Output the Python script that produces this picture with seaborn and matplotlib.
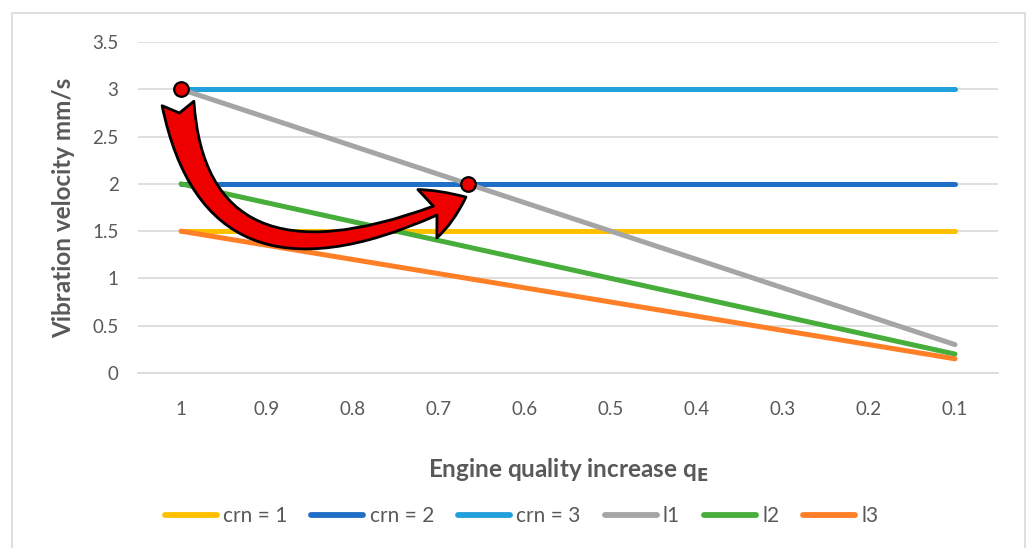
import numpy as np
import pandas as pd
import matplotlib
matplotlib.use("Agg")
import matplotlib.pyplot as plt
import seaborn as sns
from matplotlib.patches import FancyArrowPatch, Rectangle

# ---- data ----
categories = ["1", "0.9", "0.8", "0.7", "0.6", "0.5", "0.4", "0.3", "0.2", "0.1"]
crn1 = [1.5, 1.5, 1.5, 1.5, 1.5, 1.5, 1.5, 1.5, 1.5, 1.5]
crn2 = [2, 2, 2, 2, 2, 2, 2, 2, 2, 2]
crn3 = [3, 3, 3, 3, 3, 3, 3, 3, 3, 3]
l1 = [3, 2.7, 2.4, 2.1, 1.8, 1.5, 1.2, 0.9, 0.6, 0.3]
l2 = [2, 1.8, 1.6, 1.4, 1.2, 1.0, 0.8, 0.6, 0.4, 0.2]
l3 = [1.5, 1.35, 1.2, 1.05, 0.9, 0.75, 0.6, 0.45, 0.3, 0.15]
series_names = ["crn = 1", "crn = 2", "crn = 3", "l1", "l2", "l3"]
series_values = [crn1, crn2, crn3, l1, l2, l3]
colors = ["#FFC000", "#1F6FC6", "#22A0DB", "#A5A5A5", "#47AD3B", "#FF7F27"]
yticks = [0, 0.5, 1, 1.5, 2, 2.5, 3, 3.5]

rows = []
for name, vals in zip(series_names, series_values):
    for c, v in zip(categories, vals):
        rows.append({"q": c, "v": v, "series": name})
df = pd.DataFrame(rows)

sns.set_theme(style="white")
plt.rcParams["font.family"] = ["Lato", "DejaVu Sans"]

fig = plt.figure(figsize=(10.27, 5.48), dpi=100)
ax = fig.add_axes([138 / 1027, 1 - 373 / 548, (998 - 138) / 1027, (373 - 42) / 548])

sns.lineplot(data=df, x="q", y="v", hue="series", hue_order=series_names,
             palette=colors, linewidth=3.6, ax=ax, legend=False, sort=False)
for ln in ax.get_lines():
    ln.set_solid_capstyle("round")

ax.set_xlim(-0.5, len(categories) - 0.5)
ax.set_ylim(0, 3.5)
ax.set_yticks(yticks)
ax.set_yticklabels([("%g" % t) for t in yticks])
ax.yaxis.grid(True, color="#D9D9D9", linewidth=1.2)
ax.set_axisbelow(True)
for s in ["top", "right", "left"]:
    ax.spines[s].set_visible(False)
ax.spines["bottom"].set_color("#D9D9D9")
ax.spines["bottom"].set_linewidth(1.2)
ax.tick_params(axis="y", length=0, labelsize=13.5, labelcolor="#595959", pad=14)
ax.tick_params(axis="x", length=0, labelsize=13.5, labelcolor="#595959", pad=20)

ax.set_ylabel("Vibration velocity mm/s", fontsize=17.5, fontweight="bold",
              color="#595959", labelpad=12)
ax.set_xlabel(r"Engine quality increase q$_\mathbf{E}$", fontsize=17.5, fontweight="bold",
              color="#595959", labelpad=28)

# ---- annotation: points and curved arrow ----
p0 = (0, l1[0])
# intersection of l1 with crn = 2 (index coordinate)
slope = l1[1] - l1[0]
xi = (crn2[0] - l1[0]) / slope
p1 = (xi, crn2[0])

arrow = FancyArrowPatch((p0[0] - 0.035, p0[1] - 0.15), (p1[0] - 0.02, p1[1] - 0.14),
                        connectionstyle="angle3,angleA=-82,angleB=25",
                        arrowstyle="fancy,head_length=0.55,head_width=0.68,tail_width=0.42",
                        mutation_scale=55, facecolor="#EE0000", edgecolor="black",
                        linewidth=2, zorder=5, shrinkA=0, shrinkB=0)
ax.add_patch(arrow)
ax.scatter([p0[0], p1[0]], [p0[1], p1[1]], s=110, color="#EE0000",
           edgecolor="black", linewidth=1.6, zorder=6)

# ---- legend ----
handles = [plt.Line2D([0], [0], color=c, lw=4.2, solid_capstyle="round") for c in colors]
fig.legend(handles, series_names, loc="center", bbox_to_anchor=(0.508, 1 - 516 / 548),
           ncol=6, frameon=False, fontsize=15, handlelength=2.5, columnspacing=1.15,
           handletextpad=0.3, labelcolor="#595959")

fig.patches.append(Rectangle((12 / 1027, -0.05), (1025 - 12) / 1027, 1 - 13 / 548 + 0.05,
                             transform=fig.transFigure, fill=False,
                             edgecolor="#D9D9D9", linewidth=1.2))

fig.savefig("out.png", dpi=100)
